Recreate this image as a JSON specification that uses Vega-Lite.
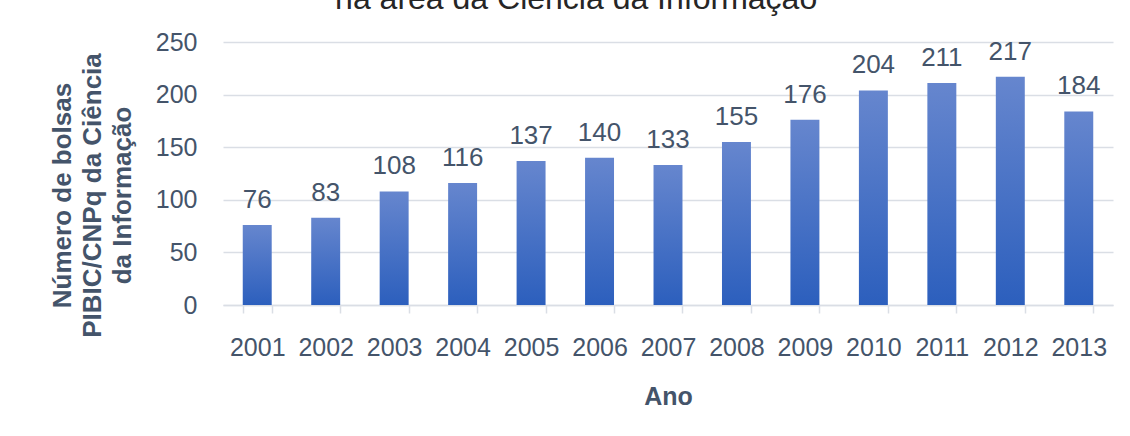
{
  "$schema": "https://vega.github.io/schema/vega-lite/v6.json",
  "autosize": {"type": "none"},
  "padding": {"left": 223, "top": 42, "right": 17, "bottom": 131},
  "width": 890,
  "height": 263,
  "background": "white",
  "title": {
    "text": "na área da Ciência da Informação",
    "fontSize": 32,
    "fontWeight": "normal",
    "font": "Liberation Sans",
    "color": "#262626",
    "anchor": "middle",
    "frame": "bounds",
    "baseline": "alphabetic",
    "offset": 8,
    "dy": 19,
    "dx": -5
  },
  "config": {
    "font": "Liberation Sans",
    "view": {"stroke": null}
  },
  "data": {
    "values": [
      {"ano": "2001", "bolsas": 76},
      {"ano": "2002", "bolsas": 83},
      {"ano": "2003", "bolsas": 108},
      {"ano": "2004", "bolsas": 116},
      {"ano": "2005", "bolsas": 137},
      {"ano": "2006", "bolsas": 140},
      {"ano": "2007", "bolsas": 133},
      {"ano": "2008", "bolsas": 155},
      {"ano": "2009", "bolsas": 176},
      {"ano": "2010", "bolsas": 204},
      {"ano": "2011", "bolsas": 211},
      {"ano": "2012", "bolsas": 217},
      {"ano": "2013", "bolsas": 184}
    ]
  },
  "encoding": {
    "x": {
      "field": "ano",
      "type": "ordinal",
      "scale": {"paddingInner": 0.577, "paddingOuter": 0.2885},
      "axis": {
        "title": "Ano",
        "titleFontSize": 25,
        "titleFontWeight": "bold",
        "titleColor": "#44546a",
        "titlePadding": 24,
        "labelAngle": 0,
        "labelFontSize": 25,
        "labelColor": "#44546a",
        "labelPadding": 22,
        "tickBand": "extent",
        "tickSize": 8,
        "tickColor": "#dadee5",
        "tickWidth": 1.5,
        "domainColor": "#dadee5",
        "domainWidth": 1.5,
        "grid": false
      }
    },
    "y": {
      "field": "bolsas",
      "type": "quantitative",
      "scale": {"domain": [0, 250]},
      "axis": {
        "title": ["Número de bolsas", "PIBIC/CNPq da Ciência", "da Informação"],
        "titleFontSize": 26,
        "titleFontWeight": "bold",
        "titleColor": "#44546a",
        "titleLineHeight": 30,
        "titlePadding": 20,
        "titleY": 153,
        "values": [0, 50, 100, 150, 200, 250],
        "labelFontSize": 25,
        "labelColor": "#44546a",
        "labelPadding": 26,
        "ticks": false,
        "tickSize": 0,
        "domain": false,
        "gridColor": "#dadee5",
        "gridWidth": 1.5
      }
    }
  },
  "layer": [
    {
      "mark": {
        "type": "bar",
        "color": {
          "gradient": "linear",
          "x1": 0, "y1": 0, "x2": 0, "y2": 1,
          "stops": [
            {"offset": 0, "color": "#6686ce"},
            {"offset": 1, "color": "#2c5fbd"}
          ]
        }
      }
    },
    {
      "mark": {
        "type": "text",
        "baseline": "alphabetic",
        "dy": -17,
        "fontSize": 26,
        "color": "#44546a"
      },
      "encoding": {"text": {"field": "bolsas", "type": "quantitative"}}
    }
  ]
}
